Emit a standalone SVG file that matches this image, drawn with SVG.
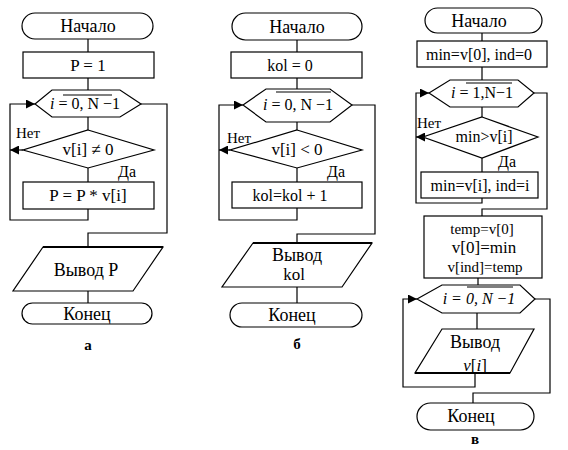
<svg xmlns="http://www.w3.org/2000/svg" width="568" height="450" viewBox="0 0 568 450">
<style>
.s{fill:#fff;stroke:#000;stroke-width:1.2}
.c{fill:none;stroke:#000;stroke-width:1.2}
text{font-family:'Liberation Serif','Times New Roman',serif;font-size:16px;fill:#000;text-anchor:middle}
.tm{font-size:18px}
.m{font-size:17px}
.sm{font-size:15px}
.l{text-anchor:start}
.b{font-weight:bold;font-size:15px}
.i{font-style:italic}
</style>
<defs>
<marker id="a" viewBox="0 0 10 10" refX="10" refY="5" markerWidth="9" markerHeight="9" markerUnits="userSpaceOnUse" orient="auto">
<path d="M0,0 L10,5 L0,10 z" fill="#000"/>
</marker>
</defs>
<g id="connectors">
<path class="c" d="M88,39 V52 M88,78 V90 M88,117 V130 M88,168 V182 M88,291 V303"/>
<path class="c" d="M88,209 V220 H10 V104 H35" marker-end="url(#a)"/>
<path class="c" d="M23,150 H10" marker-end="url(#a)"/>
<path class="c" d="M141,104 H167 V233 H88 V247"/>
<path class="c" d="M297,40 V52 M297,78 V89 M297,122 V130 M297,168 V182 M297,287 V303"/>
<path class="c" d="M297,208 V220 H219 V105 H243" marker-end="url(#a)"/>
<path class="c" d="M230,150 H219" marker-end="url(#a)"/>
<path class="c" d="M352,105 H375 V234 H297 V243"/>
<path class="c" d="M482,33 V41 M482,67 V80 M482,107 V117 M482,158 V172 M478,278 V285 M477,313 V329"/>
<path class="c" d="M482,198 V203 H416 V93 H429" marker-end="url(#a)"/>
<path class="c" d="M423,137 H416" marker-end="url(#a)"/>
<path class="c" d="M534,93 H547 V209 H482 V216"/>
<path class="c" d="M475,373 V387 H403 V299 H417" marker-end="url(#a)"/>
<path class="c" d="M535,299 H550 V393 H473 V403"/>
</g>
<g id="a-start"><rect class="s" x="22" y="13" width="131" height="26" rx="13"/><text class="tm" x="88" y="32">Начало</text></g>
<g id="a-init"><rect class="s" x="23" y="52" width="131" height="26"/><text class="m" x="88" y="71">P = 1</text></g>
<g id="a-loop"><polygon class="s" points="35,104 52,90 120,90 141,104 120,117 52,117"/><text x="85" y="109"><tspan class="i">i</tspan> = 0, N −1</text><line class="c" x1="63" y1="95" x2="112" y2="95"/></g>
<g id="a-cond"><polygon class="s" points="88,130 154,150 88,168 23,150"/><text class="m" x="88" y="155">v[i] ≠ 0</text></g>
<text class="l sm" x="16" y="138">Нет</text>
<text class="l" x="118" y="177">Да</text>
<g id="a-mul"><rect class="s" x="23" y="182" width="131" height="27"/><text class="m" x="88" y="201">P = P * v[i]</text></g>
<g id="a-out"><polygon class="s" points="43,247 163,247 133,291 13,291"/><line x1="43" y1="247" x2="163" y2="247" stroke="#000" stroke-width="2.2"/><text class="tm" x="86" y="276">Вывод  P</text></g>
<g id="a-end"><rect class="s" x="22" y="303" width="130" height="21" rx="10.5"/><text class="tm" x="87" y="320">Конец</text></g>
<text class="b" x="88" y="350">а</text>
<g id="b-start"><rect class="s" x="232" y="13" width="130" height="27" rx="13.5"/><text class="tm" x="297" y="33">Начало</text></g>
<g id="b-init"><rect class="s" x="231" y="52" width="131" height="26"/><text x="290" y="71">kol  = 0</text></g>
<g id="b-loop"><polygon class="s" points="243,105 266,89 330,89 352,105 330,122 266,122"/><text x="298" y="110"><tspan class="i">i</tspan> = 0,  N −1</text><line class="c" x1="276" y1="92" x2="331" y2="92"/></g>
<g id="b-cond"><polygon class="s" points="297,130 362,150 297,168 230,150"/><text class="m" x="297" y="155">v[i] &lt; 0</text></g>
<text class="l sm" x="227" y="143">Нет</text>
<text class="l" x="327" y="177">Да</text>
<g id="b-inc"><rect class="s" x="232" y="182" width="130" height="26"/><text x="290" y="201">kol=kol + 1</text></g>
<g id="b-out"><polygon class="s" points="253,243 372,243 342,287 222,287"/><line x1="253" y1="243" x2="372" y2="243" stroke="#000" stroke-width="2.2"/><text class="tm" x="297" y="261">Вывод</text><text class="m" x="294" y="280">kol</text></g>
<g id="b-end"><rect class="s" x="230" y="303" width="132" height="24" rx="12"/><text class="tm" x="292" y="321">Конец</text></g>
<text class="b" x="297" y="349">б</text>
<g id="c-start"><rect class="s" x="425" y="8" width="117" height="25" rx="12.5"/><text class="tm" x="479" y="27">Начало</text></g>
<g id="c-init"><rect class="s" x="417" y="41" width="130" height="26"/><text x="479" y="60">min=v[0], ind=0</text></g>
<g id="c-loop1"><polygon class="s" points="429,93 450,80 518,80 534,93 518,107 450,107"/><text x="482" y="98"><tspan class="i">i</tspan> = 1,N−1</text><line class="c" x1="466" y1="83" x2="512" y2="83"/></g>
<g id="c-cond"><polygon class="s" points="482,117 538,137 482,158 423,137"/><text x="484" y="142">min&gt;v[i]</text></g>
<text class="l sm" x="417" y="128">Нет</text>
<text class="l" x="498" y="167">Да</text>
<g id="c-set"><rect class="s" x="421" y="172" width="117" height="26"/><text x="480" y="191">min=v[i], ind=i</text></g>
<g id="c-swap"><rect class="s" x="424" y="216" width="118" height="62"/><text class="sm" x="482" y="234">temp=v[0]</text><text class="m" x="484" y="253">v[0]=min</text><text class="sm" x="485" y="272">v[ind]=temp</text></g>
<g id="c-loop2"><polygon class="s" points="417,299 442,285 520,285 535,299 520,313 442,313"/><text class="i" x="479" y="304">i = 0, N −1</text><line class="c" x1="467" y1="287" x2="513" y2="287"/></g>
<g id="c-out"><polygon class="s" points="442,329 534,329 510,373 415,373"/><line x1="415" y1="373" x2="510" y2="373" stroke="#000" stroke-width="2.2"/><text class="tm" x="475" y="348">Вывод</text><text class="m" x="475" y="371"><tspan class="i">v</tspan>[<tspan class="i">i</tspan>]</text></g>
<g id="c-end"><rect class="s" x="417" y="403" width="117" height="27" rx="13.5"/><text class="tm" x="471" y="422">Конец</text></g>
<text class="b" x="475" y="444">в</text>
</svg>
